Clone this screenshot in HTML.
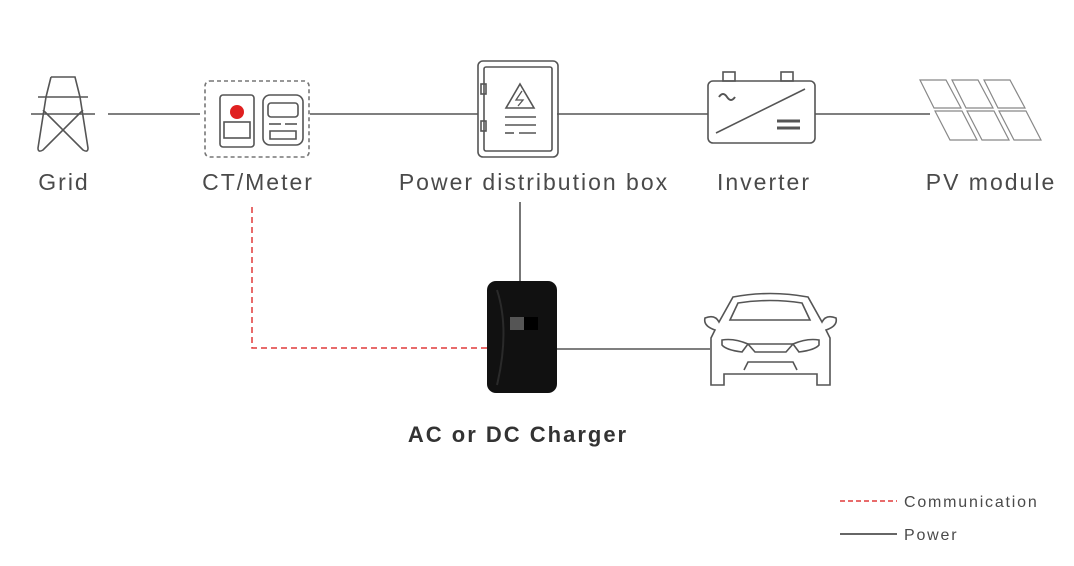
<!DOCTYPE html>
<html><head><style>body{margin:0;background:#fff}svg{display:block}text{font-family:"Liberation Sans",sans-serif;fill:#4a4a4a}</style></head><body>
<svg width="1074" height="566" viewBox="0 0 1074 566" xmlns="http://www.w3.org/2000/svg">
<g stroke="#555" stroke-width="1.6" fill="none">
<line x1="108" y1="114" x2="200" y2="114"/>
<line x1="310" y1="114" x2="478" y2="114"/>
<line x1="557" y1="114" x2="708" y2="114"/>
<line x1="815" y1="114" x2="930" y2="114"/>
<line x1="520" y1="202" x2="520" y2="282"/>
<line x1="556" y1="349" x2="710" y2="349"/>
<path d="M51 77 L75 77 L80 97 M51 77 L46 97"/>
<path d="M46 97 L38 148 Q38 153 43 150 L83 110 M80 97 L88 148 Q88 153 83 150 L43 110"/>
<line x1="38" y1="97" x2="88" y2="97"/>
<line x1="31" y1="114" x2="95" y2="114"/>
<rect x="205" y="81" width="104" height="76" rx="5" stroke-dasharray="4 3" stroke="#777"/>
<rect x="220" y="95" width="34" height="52" rx="3"/>
<circle cx="237" cy="112" r="7" fill="#e02020" stroke="none"/>
<rect x="224" y="122" width="26" height="16"/>
<rect x="263" y="95" width="40" height="50" rx="7"/>
<rect x="268" y="103" width="30" height="14" rx="3"/>
<line x1="269" y1="124" x2="281" y2="124"/><line x1="285" y1="124" x2="297" y2="124"/>
<path d="M270 131 h26 v8 h-26z"/>
<rect x="478" y="61" width="80" height="96" rx="5"/>
<rect x="484" y="67" width="68" height="84" rx="2"/>
<rect x="481" y="84" width="5" height="10"/><rect x="481" y="121" width="5" height="10"/>
<path d="M520 84 L534 108 L506 108 Z"/>
<path d="M522 91 L516 100 L523 100 L518 106" stroke-width="1.3"/>
<line x1="505" y1="117" x2="536" y2="117"/><line x1="505" y1="125" x2="536" y2="125"/>
<line x1="505" y1="133" x2="514" y2="133"/><line x1="519" y1="133" x2="536" y2="133"/>
<rect x="708" y="81" width="107" height="62" rx="5"/>
<rect x="723" y="72" width="12" height="9"/><rect x="781" y="72" width="12" height="9"/>
<line x1="716" y1="133" x2="805" y2="89"/>
<path d="M719 97 q4 -6 8 0 q4 6 8 0" stroke-width="2"/>
<line x1="777" y1="121" x2="800" y2="121" stroke-width="3"/>
<line x1="777" y1="128" x2="800" y2="128" stroke-width="3"/>
<g stroke="#888" stroke-width="1.2">
<path d="M920 80 h26 l15 28 h-27z"/><path d="M952 80 h26 l15 28 h-27z"/><path d="M984 80 h26 l15 28 h-27z"/>
<path d="M935 111 h27 l15 29 h-27z"/><path d="M967 111 h27 l15 29 h-27z"/><path d="M999 111 h27 l15 29 h-27z"/>
</g>
<path d="M733 297 Q770 290 808 297 L822 322 Q826 314 836 318 Q838 326 826 330 L830 338 L830 385 L817 385 L817 374 L724 374 L724 385 L711 385 L711 338 L715 330 Q703 326 705 318 Q715 314 719 322 Z"/>
<path d="M738 303 Q770 298 802 303 L810 320 L730 320 Z"/>
<path d="M722 340 Q734 338 748 344 L742 352 Q726 350 722 345 Z"/>
<path d="M819 340 Q807 338 793 344 L799 352 Q815 350 819 345 Z"/>
<path d="M748 344 L793 344 L786 352 L755 352 Z"/>
<path d="M744 370 L748 362 L793 362 L797 370"/>
</g>
<rect x="487" y="281" width="70" height="112" rx="9" fill="#111"/>
<path d="M497 290 Q510 330 497 385" stroke="#2a2a2a" stroke-width="2" fill="none"/>
<rect x="510" y="317" width="14" height="13" fill="#555"/>
<rect x="524" y="317" width="14" height="13" fill="#000"/>
<path d="M252 207 V348 H488" stroke="#e03a3a" stroke-width="1.5" stroke-dasharray="6 4" fill="none"/>
<g font-size="23" text-anchor="middle" letter-spacing="2">
<text x="64" y="190">Grid</text>
<text x="258" y="190">CT/Meter</text>
<text x="534" y="190">Power distribution box</text>
<text x="764" y="190">Inverter</text>
<text x="991" y="190">PV module</text>
</g>
<text x="518" y="442" font-size="22" font-weight="bold" text-anchor="middle" letter-spacing="2" style="fill:#333">AC or DC  Charger</text>
<line x1="840" y1="501" x2="897" y2="501" stroke="#e03a3a" stroke-width="1.5" stroke-dasharray="5 3"/>
<line x1="840" y1="534" x2="897" y2="534" stroke="#333" stroke-width="1.5"/>
<text x="904" y="507" font-size="16" letter-spacing="1.8">Communication</text>
<text x="904" y="540" font-size="16" letter-spacing="1.8">Power</text>
</svg>
</body></html>
